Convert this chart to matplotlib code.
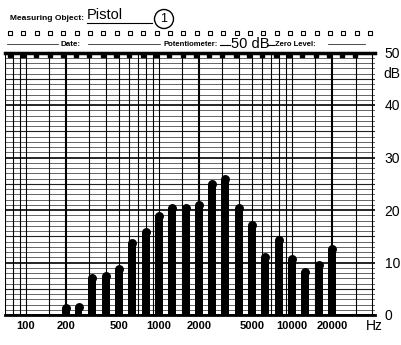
import numpy as np
import matplotlib.pyplot as plt
from matplotlib.lines import Line2D
from matplotlib.patches import Ellipse
from matplotlib.ticker import NullLocator

plt.rcParams['font.family'] = ['Liberation Sans', 'DejaVu Sans']

# third-octave band levels
freqs = [200, 250, 315, 400, 500, 630, 800, 1000, 1250, 1600, 2000,
         2500, 3150, 4000, 5000, 6300, 8000, 10000, 12500, 16000, 20000]
levels = [2.1, 2.3, 7.8, 8.1, 9.5, 14.4, 16.6, 19.6, 21.0, 21.1, 21.6,
          25.7, 26.6, 21.1, 17.8, 11.8, 14.9, 11.3, 8.9, 10.3, 13.2]

tick_freqs = [100, 200, 500, 1000, 2000, 5000, 10000, 20000]
tick_labels = ["100", "200", "500", "1000", "2000", "5000", "10000", "20000"]
db_ticks = [0, 10, 20, 30, 40, 50]

W, H = 401, 345
fig = plt.figure(figsize=(W / 100, H / 100), dpi=100)
ax = fig.add_axes([5 / W, 30 / H, 370 / W, 262.5 / H])
ax.set_xscale("log")
ax.set_xlim(70, 42000)
ax.set_ylim(0, 50)

# chart paper grid
for d in range(0, 51):
    if d % 10 == 0:
        lw, c = 1.2, "black"
    elif d % 5 == 0:
        lw, c = 0.8, "#222222"
    else:
        lw, c = 0.55, "#3a3a3a"
    ax.axhline(d, color=c, lw=lw, zorder=1)
for dec in [10, 100, 1000, 10000]:
    for m in [1, 1.5, 2, 3, 4, 5, 6, 7, 8, 9]:
        v = dec * m
        if 70 <= v <= 42000:
            bold = v in (200, 2000, 20000)
            ax.axvline(v, color="black", lw=1.5 if bold else 0.8, zorder=1)

# bars with rounded pen tops
half = 10 ** (3.8 / 133.5)
cap = 0.7
f = np.array(freqs, dtype=float)
lv = np.array(levels) - cap
ax.bar(f / half, lv, width=f * half - f / half, align="edge",
       color="black", zorder=3)
ax.plot(f, lv, "o", color="black", ms=5.4, zorder=3)

# top strip with marks
ax.axhline(50, color="black", lw=2.5, zorder=4, clip_on=False)
third = np.array([80, 100, 125, 160, 200, 250, 315, 400, 500, 630, 800, 1000,
                  1250, 1600, 2000, 2500, 3150, 4000, 5000, 6300, 8000, 10000,
                  12500, 16000, 20000, 25000, 31500])
ax.plot(third * 0.95, np.full(len(third), 49.6), "s", color="black",
        ms=3.2, clip_on=False, zorder=5)

for s in ["left", "right", "top"]:
    ax.spines[s].set_visible(False)
ax.spines["bottom"].set_linewidth(2)

ax.set_xticks(tick_freqs)
ax.set_xticklabels(tick_labels, fontweight="bold", fontsize=8)
ax.xaxis.set_minor_locator(NullLocator())
ax.tick_params(axis="x", length=0, pad=4)

ax.yaxis.tick_right()
ax.set_yticks(db_ticks)
ax.set_yticklabels([str(t) for t in db_ticks], fontsize=10)
ax.tick_params(axis="y", length=0, pad=7)

fig.text(383 / W, 1 - 74 / H, "dB", fontsize=10, va="center")
fig.text(366 / W, 1 - 326 / H, "Hz", fontsize=10, va="center")

# header
fig.text(10 / W, 1 - 18 / H, "Measuring Object:", fontsize=6,
         fontweight="bold", va="center")
fig.text(87 / W, 1 - 15 / H, "Pistol", fontsize=10.5, va="center")
fig.add_artist(Line2D([87 / W, 152 / W], [1 - 23 / H] * 2, color="black", lw=0.8))
fig.add_artist(Ellipse((164 / W, 1 - 19 / H), 19 / W, 19 / H, fill=False,
                       lw=1, color="black", transform=fig.transFigure))
fig.text(164 / W, 1 - 19 / H, "1", fontsize=9, ha="center", va="center")

sq = np.linspace(10, 370, 28)
fig.add_artist(Line2D(sq / W, np.full(len(sq), 1 - 33 / H), ls="none",
                      marker="s", ms=3.4, mfc="white", mec="black", mew=0.8))

y44 = 1 - 44 / H
fig.add_artist(Line2D([7 / W, 58 / W], [y44] * 2, color="black", lw=0.5))
fig.text(61 / W, y44, "Date:", fontsize=5.8, fontweight="bold", va="center")
fig.add_artist(Line2D([88 / W, 160 / W], [y44] * 2, color="black", lw=0.5))
fig.text(163 / W, y44, "Potentiometer:", fontsize=5.5, fontweight="bold", va="center")
fig.add_artist(Line2D([220 / W, 230 / W], [y44 - 0.004] * 2, color="black", lw=0.8))
fig.text(231 / W, y44, "50 dB", fontsize=10.5, va="center")
fig.add_artist(Line2D([267 / W, 274 / W], [y44 - 0.004] * 2, color="black", lw=0.8))
fig.text(275 / W, y44, "Zero Level:", fontsize=5.5, fontweight="bold", va="center")
fig.add_artist(Line2D([328 / W, 365 / W], [y44] * 2, color="black", lw=0.5))

plt.savefig("out.png", dpi=100)
